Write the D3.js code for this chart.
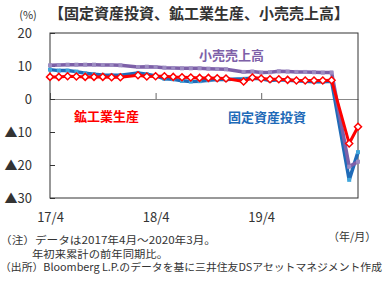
<!DOCTYPE html>
<html>
<head>
<meta charset="utf-8">
<script src="https://cdn.jsdelivr.net/npm/d3@7"></script>
<style>
  body { margin: 0; background: #fff; }
  svg { font-family: "Noto Sans CJK JP", "Noto Sans", sans-serif; }
</style>
</head>
<body>
<div id="chart"></div>
<script>
// months 2017/4 .. 2020/3 (January is not published, so it is null)
var months = ["17/4","17/5","17/6","17/7","17/8","17/9","17/10","17/11","17/12",
  "18/1","18/2","18/3","18/4","18/5","18/6","18/7","18/8","18/9","18/10","18/11","18/12",
  "19/1","19/2","19/3","19/4","19/5","19/6","19/7","19/8","19/9","19/10","19/11","19/12",
  "20/1","20/2","20/3"];

var fixedInvest = [8.9, 8.6, 8.6, 8.3, 7.8, 7.5, 7.3, 7.2, 7.2,
  null, 7.9, 7.5, 7.0, 6.1, 6.0, 5.5, 5.3, 5.4, 5.7, 5.9, 5.9,
  null, 6.1, 6.3, 6.1, 5.6, 5.8, 5.7, 5.5, 5.4, 5.2, 5.2, 5.4,
  null, -24.5, -16.1];

var industrial = [6.7, 6.7, 6.9, 6.8, 6.7, 6.7, 6.7, 6.6, 6.6,
  null, 7.2, 6.8, 6.9, 6.9, 6.7, 6.6, 6.5, 6.4, 6.4, 6.3, 6.2,
  null, 5.3, 6.5, 6.2, 6.0, 6.0, 5.8, 5.6, 5.6, 5.6, 5.6, 5.7,
  null, -13.5, -8.4];

var retail = [10.2, 10.3, 10.4, 10.4, 10.4, 10.4, 10.3, 10.3, 10.2,
  null, 9.7, 9.8, 9.7, 9.5, 9.4, 9.3, 9.3, 9.3, 9.2, 9.1, 9.0,
  null, 8.2, 8.3, 8.0, 8.1, 8.4, 8.3, 8.2, 8.2, 8.1, 8.0, 8.0,
  null, -20.5, -19.0];

var xTickLabels = ["17/4", "18/4", "19/4"];
var yTicks = [20, 10, 0, -10, -20, -30];

var W = 384, H = 288;
var plotLeft = 50, plotRight = 358, plotTop = 33, plotBottom = 198;

var svg = d3.select("#chart").append("svg")
    .attr("width", W)
    .attr("height", H);

var x = d3.scalePoint().domain(months).range([plotLeft, plotRight]);
var y = d3.scaleLinear().domain([-30, 20]).range([plotBottom, plotTop]);

// title and unit
svg.append("text")
    .attr("x", 49).attr("y", 19)
    .attr("font-size", 15).attr("font-weight", "bold").attr("fill", "#333")
    .text("【固定資産投資、鉱工業生産、小売売上高】");
svg.append("text")
    .attr("x", 28).attr("y", 19)
    .attr("text-anchor", "middle")
    .attr("font-size", 11).attr("fill", "#333")
    .text("(%)");

// zero line with month ticks
var zeroAxis = svg.append("g")
    .attr("transform", "translate(0," + y(0) + ")")
    .call(d3.axisBottom(x).tickValues(xTickLabels).tickSizeInner(-6).tickSizeOuter(0).tickFormat(""));
zeroAxis.select(".domain").attr("stroke", "#888");
zeroAxis.selectAll(".tick line").attr("stroke", "#666");

// bottom labels
var xAxis = svg.append("g")
    .attr("transform", "translate(0," + plotBottom + ")")
    .call(d3.axisBottom(x).tickValues(xTickLabels).tickSize(0).tickPadding(15));
xAxis.select(".domain").remove();
xAxis.selectAll("text")
    .attr("font-size", 13).attr("fill", "#333")
    .style("font-family", "'Noto Sans CJK JP', sans-serif");

// left axis
var yAxis = svg.append("g")
    .attr("transform", "translate(" + plotLeft + ",0)")
    .call(d3.axisLeft(y).tickValues(yTicks).tickSizeInner(-5).tickSizeOuter(0).tickPadding(18)
      .tickFormat(function(d) { return d < 0 ? "▲" + (-d) : d; }));
yAxis.select(".domain").remove();
yAxis.selectAll(".tick line").attr("stroke", "#333");
yAxis.selectAll("text")
    .attr("font-size", 13).attr("fill", "#333")
    .style("font-family", "'Noto Sans CJK JP', sans-serif");

// frame
svg.append("rect")
    .attr("x", plotLeft).attr("y", plotTop)
    .attr("width", plotRight - plotLeft).attr("height", plotBottom - plotTop)
    .attr("fill", "none").attr("stroke", "#333").attr("stroke-width", 1);

function points(vals) {
  return months.map(function(m, i) { return {m: m, v: vals[i]}; })
    .filter(function(d) { return d.v !== null; });
}

var line = d3.line()
    .x(function(d) { return x(d.m); })
    .y(function(d) { return y(d.v); });

// fixed asset investment
var fiPts = points(fixedInvest);
svg.append("path").datum(fiPts)
    .attr("fill", "none").attr("stroke", "#1f6bb8").attr("stroke-width", 3.5)
    .attr("d", line);
svg.selectAll(".fi").data(fiPts).enter().append("rect")
    .attr("x", function(d) { return x(d.m) - 2; })
    .attr("y", function(d) { return y(d.v) - 2; })
    .attr("width", 4).attr("height", 4)
    .attr("fill", "#3fa6dc");

// retail sales
var rtPts = points(retail);
svg.append("path").datum(rtPts)
    .attr("fill", "none").attr("stroke", "#7d60a8").attr("stroke-width", 3.5)
    .attr("d", line);
svg.selectAll(".rt").data(rtPts).enter().append("rect")
    .attr("x", function(d) { return x(d.m) - 2; })
    .attr("y", function(d) { return y(d.v) - 2; })
    .attr("width", 4).attr("height", 4)
    .attr("fill", "#9d8cc2");

// industrial production
var ipPts = points(industrial);
svg.append("path").datum(ipPts)
    .attr("fill", "none").attr("stroke", "#ff0000").attr("stroke-width", 3)
    .attr("d", line);
svg.selectAll(".ip").data(ipPts).enter().append("path")
    .attr("transform", function(d) { return "translate(" + x(d.m) + "," + y(d.v) + ")"; })
    .attr("d", "M0,-3.5L3.5,0L0,3.5L-3.5,0Z")
    .attr("fill", "#fff").attr("stroke", "#ff0000").attr("stroke-width", 1.5);

// series labels
svg.append("text")
    .attr("x", 199).attr("y", 60)
    .attr("font-size", 13).attr("font-weight", "bold").attr("fill", "#7d60a8")
    .text("小売売上高");
svg.append("text")
    .attr("x", 74).attr("y", 121)
    .attr("font-size", 13).attr("font-weight", "bold").attr("fill", "#ff0000")
    .text("鉱工業生産");
svg.append("text")
    .attr("x", 228).attr("y", 122)
    .attr("font-size", 13).attr("font-weight", "bold").attr("fill", "#1f6bb8")
    .text("固定資産投資");

// notes
svg.append("text")
    .attr("x", 328).attr("y", 241)
    .attr("font-size", 11).attr("fill", "#333")
    .text("（年/月）");
svg.append("text")
    .attr("x", 0).attr("y", 244)
    .attr("font-size", 10.5).attr("fill", "#333")
    .attr("textLength", 216).attr("lengthAdjust", "spacingAndGlyphs")
    .text("（注）データは2017年4月～2020年3月。");
svg.append("text")
    .attr("x", 32).attr("y", 257.5)
    .attr("font-size", 10.5).attr("fill", "#333")
    .attr("textLength", 136).attr("lengthAdjust", "spacingAndGlyphs")
    .text("年初来累計の前年同期比。");
svg.append("text")
    .attr("x", 0).attr("y", 271)
    .attr("font-size", 10.5).attr("fill", "#333")
    .attr("textLength", 382).attr("lengthAdjust", "spacingAndGlyphs")
    .text("（出所）Bloomberg L.P.のデータを基に三井住友DSアセットマネジメント作成");
</script>
</body>
</html>
